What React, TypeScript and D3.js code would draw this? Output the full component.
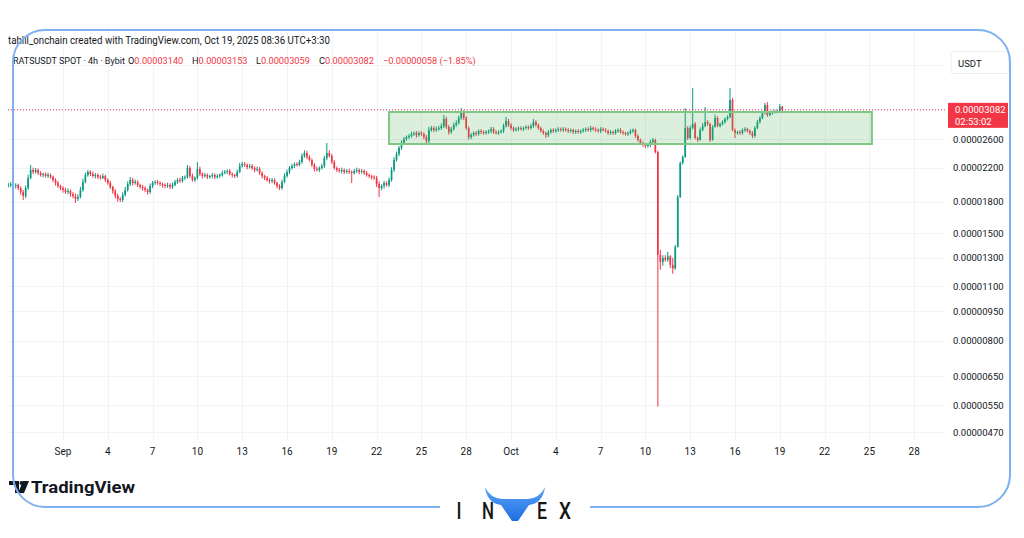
import React from 'react';
import * as d3 from 'd3';

const W = 1024;
const H = 538;

// prices in units of 1e-8 USDT, 4h candles starting 2025-08-28 08:00 UTC
const candleStartUtc = '2025-08-28T08:00:00Z';
const candleHours = 4;
const firstOpen = 1980;

const closes = [
  1988, 2000, 1976, 1988, 1953, 1908, 1864, 1953, 2071, 2170, 2145, 2170,
  2132, 2107, 2120, 2095, 2107, 2083, 2047, 2011, 1976, 1953, 1931, 1908,
  1919, 1886, 1864, 1832, 1853, 1931, 2023, 2107, 2145, 2120, 2095, 2107,
  2083, 2071, 2095, 2047, 2011, 1965, 1919, 1864, 1832, 1821, 1875, 1931,
  2000, 2047, 2011, 2023, 1988, 1965, 1953, 1931, 1908, 1976, 2011, 2023,
  2011, 2000, 1988, 1976, 1988, 1965, 1988, 2023, 2047, 2035, 2071, 2083,
  2195, 2095, 2047, 2071, 2182, 2120, 2095, 2107, 2083, 2095, 2107, 2083,
  2095, 2107, 2132, 2145, 2157, 2120, 2107, 2095, 2145, 2221, 2247, 2234,
  2208, 2221, 2195, 2170, 2182, 2132, 2095, 2071, 2047, 2035, 2047, 2011,
  1976, 1953, 2023, 2095, 2145, 2195, 2221, 2247, 2234, 2273, 2354, 2396,
  2341, 2300, 2234, 2182, 2170, 2195, 2221, 2327, 2396, 2354, 2273, 2195,
  2170, 2157, 2170, 2145, 2157, 2145, 2132, 2157, 2170, 2145, 2157, 2132,
  2107, 2095, 2083, 2071, 2000, 1953, 1976, 2011, 1988, 2047, 2170, 2300,
  2382, 2467, 2540, 2600, 2630, 2646, 2677, 2693, 2661, 2693, 2677, 2630,
  2570, 2740, 2772, 2740, 2756, 2772, 2805, 2922, 2789, 2708, 2756, 2821,
  2854, 2939, 3026, 2939, 2772, 2630, 2661, 2693, 2677, 2724, 2708, 2693,
  2708, 2724, 2756, 2708, 2693, 2708, 2724, 2805, 2888, 2821, 2772, 2740,
  2756, 2772, 2756, 2772, 2789, 2772, 2805, 2871, 2821, 2772, 2724, 2693,
  2661, 2708, 2740, 2724, 2740, 2756, 2740, 2756, 2740, 2724, 2740, 2708,
  2724, 2708, 2724, 2740, 2756, 2740, 2772, 2756, 2740, 2724, 2756, 2740,
  2724, 2693, 2708, 2693, 2724, 2740, 2708, 2693, 2677, 2693, 2724, 2740,
  2646, 2585, 2540, 2511, 2496, 2511, 2555, 2585, 2410, 1322, 1268, 1299,
  1284, 1310, 1247, 1222, 1385, 1853, 2260, 2341, 2772, 2615, 2772, 2838,
  2615, 2585, 2740, 2805, 2871, 2838, 2585, 2789, 2939, 2805, 2838, 2871,
  2922, 2956, 3264, 2740, 2693, 2708, 2693, 2740, 2756, 2724, 2693, 2646,
  2772, 2871, 2939, 3026, 3170, 2991, 3026, 3044, 3050, 3061, 3140, 3082,
];

const upWick = [
  25, 20, 30, 20, 15, 20, 25, 30, 40, 64, 30, 25,
  20, 25, 15, 20, 30, 20, 15, 20, 25, 15, 20, 25,
  30, 15, 20, 25, 30, 35, 40, 30, 25, 20, 30, 25,
  20, 25, 30, 15, 20, 25, 15, 20, 25, 20, 30, 35,
  30, 36, 25, 30, 20, 15, 25, 20, 15, 30, 25, 20,
  25, 20, 15, 20, 25, 20, 30, 25, 20, 30, 25, 20,
  39, 25, 30, 20, 91, 30, 20, 25, 20, 15, 25, 20,
  25, 20, 30, 25, 20, 25, 20, 15, 30, 40, 30, 25,
  20, 30, 25, 20, 30, 25, 20, 15, 25, 20, 25, 20,
  15, 20, 30, 35, 30, 25, 30, 20, 25, 30, 35, 40,
  30, 25, 20, 25, 30, 20, 25, 30, 144, 40, 30, 25,
  20, 25, 30, 20, 25, 30, 20, 25, 30, 20, 25, 20,
  25, 20, 15, 20, 25, 30, 20, 25, 20, 30, 35, 40,
  35, 30, 40, 30, 25, 30, 35, 25, 30, 25, 30, 25,
  30, 50, 35, 30, 40, 35, 45, 69, 40, 30, 35, 40,
  45, 40, 89, 50, 30, 25, 30, 25, 30, 25, 30, 25,
  30, 25, 35, 30, 25, 30, 25, 40, 68, 35, 30, 25,
  30, 25, 30, 25, 30, 25, 35, 51, 30, 25, 20, 25,
  20, 30, 25, 30, 25, 30, 25, 30, 25, 30, 25, 20,
  25, 30, 25, 30, 25, 30, 35, 25, 30, 25, 30, 25,
  30, 25, 30, 25, 30, 25, 30, 25, 20, 25, 30, 25,
  20, 25, 20, 25, 20, 25, 30, 30, 20, 20, 40, 20,
  20, 35, 10, 53, 15, 20, 20, 20, 343, 30, 40, 663,
  30, 20, 40, 50, 263, 30, 20, 30, 60, 30, 25, 30,
  25, 30, 237, 38, 25, 20, 30, 25, 30, 20, 25, 30,
  30, 35, 30, 40, 37, 56, 30, 25, 30, 25, 49, 13,
];

const downWick = [
  20, 25, 20, 30, 25, 30, 43, 25, 20, 15, 25, 20,
  25, 20, 30, 20, 25, 20, 25, 30, 20, 25, 30, 20,
  25, 30, 25, 42, 20, 15, 20, 15, 20, 25, 20, 30,
  25, 20, 15, 25, 20, 25, 30, 25, 30, 21, 20, 15,
  20, 25, 30, 20, 25, 20, 30, 25, 30, 20, 25, 20,
  20, 25, 30, 25, 20, 25, 20, 15, 20, 25, 20, 25,
  20, 25, 20, 25, 20, 25, 30, 20, 25, 20, 30, 25,
  20, 25, 20, 15, 25, 20, 30, 25, 20, 15, 20, 25,
  30, 20, 25, 30, 20, 25, 30, 25, 20, 30, 25, 20,
  25, 22, 20, 15, 20, 25, 20, 25, 20, 15, 20, 25,
  30, 20, 25, 30, 20, 25, 20, 25, 30, 20, 25, 20,
  25, 20, 30, 25, 20, 25, 121, 20, 25, 30, 20, 25,
  20, 25, 30, 20, 35, 100, 25, 30, 20, 25, 20, 25,
  20, 30, 25, 30, 25, 30, 25, 30, 40, 25, 30, 35,
  40, 30, 25, 35, 30, 25, 30, 35, 30, 40, 30, 25,
  30, 25, 30, 35, 30, 40, 30, 25, 30, 25, 35, 30,
  25, 30, 35, 30, 25, 30, 25, 30, 25, 30, 35, 30,
  25, 30, 25, 30, 25, 30, 25, 30, 25, 30, 25, 30,
  46, 30, 25, 30, 25, 30, 25, 30, 25, 30, 25, 30,
  30, 25, 30, 25, 30, 25, 30, 25, 30, 25, 30, 25,
  25, 30, 25, 30, 25, 30, 25, 30, 25, 30, 25, 30,
  30, 25, 30, 25, 30, 25, 30, 25, 20, 777, 56, 28,
  14, 14, 22, 38, 10, 5, 10, 20, 10, 30, 20, 20,
  20, 30, 10, 20, 20, 30, 30, 10, 10, 20, 25, 25,
  25, 25, 20, 20, 78, 25, 30, 25, 30, 25, 30, 35,
  25, 20, 25, 20, 25, 30, 25, 30, 25, 30, 20, 23,
];

const priceTicks = [2600, 2200, 1800, 1500, 1300, 1100, 950, 800, 650, 550, 470];
const hiddenGridTicks = [4000, 3100];

const xTickDates = [
  '2025-09-01', '2025-09-04', '2025-09-07', '2025-09-10', '2025-09-13', '2025-09-16', '2025-09-19',
  '2025-09-22', '2025-09-25', '2025-09-28', '2025-10-01', '2025-10-04', '2025-10-07', '2025-10-10',
  '2025-10-13', '2025-10-16', '2025-10-19', '2025-10-22', '2025-10-25', '2025-10-28',
];
const xTickLabels = ['Sep', '4', '7', '10', '13', '16', '19', '22', '25', '28', 'Oct', '4', '7', '10', '13', '16', '19', '22', '25', '28'];

const lastPrice = 3082;
const countdown = '02:53:02';
const zoneTop = 3044;
const zoneBottom = 2525;
const zoneStart = '2025-09-22T20:00:00Z';
const zoneEnd = '2025-10-25T04:00:00Z';

const headerLine1 = 'tahlil_onchain created with TradingView.com, Oct 19, 2025 08:36 UTC+3:30';
const symbolText = 'RATSUSDT SPOT · 4h · Bybit';
const ohlcLabels = ['O', 'H', 'L', 'C'];
const ohlcValues = ['0.00003140', '0.00003153', '0.00003059', '0.00003082'];
const changeText = '−0.00000058 (−1.85%)';

const UP = '#089981';
const DOWN = '#f23645';
const TXT = '#131722';
const GRID = '#f0f3fa';

const fmt = (v: number) => (v * 1e-8).toFixed(8);

export default function App() {
  const x = d3
    .scaleUtc()
    .domain([new Date('2025-09-01T00:00:00Z'), new Date('2025-10-01T00:00:00Z')])
    .range([63, 511]);
  const y = d3.scaleLog().domain([2600, 470]).range([139, 432]);

  const plot = { left: 8, right: 945, top: 28, bottom: 440 };
  const t0 = new Date(candleStartUtc).getTime();
  const step = candleHours * 3600 * 1000;

  const candles = closes.map((c, i) => {
    const o = i === 0 ? firstOpen : closes[i - 1];
    const hi = Math.max(o, c) + upWick[i];
    const lo = Math.min(o, c) - downWick[i];
    return { t: new Date(t0 + i * step), o, c, hi, lo };
  });

  const bodyW = 1.7;
  const yLast = y(lastPrice);

  const ohlcX = [128, 192, 256, 319];

  return (
    <svg
      width={W}
      height={H}
      viewBox={`0 0 ${W} ${H}`}
      style={{ position: 'absolute', left: 0, top: 0, display: 'block', background: '#fff' }}
      fontFamily="Roboto, 'Noto Sans', 'DejaVu Sans', sans-serif"
    >
      <defs>
        <clipPath id="plotClip">
          <rect x={plot.left} y={plot.top} width={plot.right - plot.left} height={plot.bottom - plot.top} />
        </clipPath>
        <linearGradient id="invexBlue" x1="0" y1="0" x2="0" y2="1">
          <stop offset="0" stopColor="#5aa2f7" />
          <stop offset="1" stopColor="#1f6fe0" />
        </linearGradient>
      </defs>
      <rect x={0} y={0} width={W} height={H} fill="#fff" />

      {/* grid */}
      <g stroke={GRID} strokeWidth={1}>
        {xTickDates.map((d) => {
          const xx = Math.round(x(new Date(d + 'T00:00:00Z'))) + 0.5;
          return <line key={d} x1={xx} x2={xx} y1={plot.top} y2={plot.bottom} />;
        })}
        {[...priceTicks, ...hiddenGridTicks].map((p) => {
          const yy = Math.round(y(p)) + 0.5;
          return <line key={p} x1={plot.left} x2={plot.right} y1={yy} y2={yy} />;
        })}
      </g>

      {/* header */}
      <text x={8} y={43.5} fontSize={10} fill={TXT} textLength={322} lengthAdjust="spacingAndGlyphs">
        {headerLine1}
      </text>
      <text x={13} y={63.5} fontSize={9} fill={TXT}>
        {symbolText}
      </text>
      <text y={63.5} fontSize={9.2} fill={TXT}>
        {ohlcLabels.map((l, i) => (
          <React.Fragment key={l}>
            <tspan x={ohlcX[i]} fill={TXT}>{l}</tspan>
            <tspan fill={DOWN}>{ohlcValues[i]}</tspan>
          </React.Fragment>
        ))}
        <tspan x={383} fill={DOWN}>{changeText}</tspan>
      </text>

      {/* candles */}
      <g clipPath="url(#plotClip)">
        {candles.map((d, i) => {
          const cx = x(d.t);
          const col = d.c >= d.o ? UP : DOWN;
          const yTop = y(Math.max(d.o, d.c));
          const yBot = y(Math.min(d.o, d.c));
          return (
            <g key={i} fill={col}>
              <rect x={cx - 0.5} y={y(d.hi)} width={1} height={Math.max(0.5, y(d.lo) - y(d.hi))} />
              <rect x={cx - bodyW / 2} y={yTop} width={bodyW} height={Math.max(1, yBot - yTop)} />
            </g>
          );
        })}
        {/* zone */}
        <rect
          x={x(new Date(zoneStart))}
          y={y(zoneTop)}
          width={x(new Date(zoneEnd)) - x(new Date(zoneStart))}
          height={y(zoneBottom) - y(zoneTop)}
          fill="rgba(76,175,80,0.2)"
          stroke="#81c784"
          strokeWidth={2}
        />
        {/* last price line */}
        <line x1={plot.left} x2={plot.right} y1={yLast} y2={yLast} stroke={DOWN} strokeWidth={1} strokeDasharray="1 2" />
      </g>

      {/* price axis */}
      <g fontSize={9.5} fill={TXT}>
        {priceTicks.map((p) => (
          <text key={p} x={953} y={y(p)} dominantBaseline="central">
            {fmt(p)}
          </text>
        ))}
      </g>
      <rect x={951} y={51.5} width={58} height={22} fill="#fff" stroke="#eceef2" rx={2} />
      <text x={958} y={63} fontSize={9.5} fill={TXT} dominantBaseline="central">
        USDT
      </text>
      <rect x={948} y={yLast - 7} width={60} height={25} fill={DOWN} />
      <text x={955} y={yLast} fontSize={9.5} fill="#fff" dominantBaseline="central">
        {fmt(lastPrice)}
      </text>
      <text x={955} y={yLast + 12} fontSize={9.5} fill="#fff" dominantBaseline="central">
        {countdown}
      </text>

      {/* time axis */}
      <g fontSize={10} fill={TXT} textAnchor="middle">
        {xTickDates.map((d, i) => (
          <text key={d} x={x(new Date(d + 'T00:00:00Z'))} y={451} dominantBaseline="central">
            {xTickLabels[i]}
          </text>
        ))}
      </g>

      {/* TradingView logo */}
      <g fill="#131722">
        <path d="M9 481 H19 V493 H15 V485 H9 Z" />
        <circle cx={21.5} cy={483} r={2} />
        <path d="M23 481 H29 L24 493 H18 Z" />
      </g>
      <text x={31} y={493} fontSize={16} fontWeight={700} fill="#131722" textLength={104} lengthAdjust="spacingAndGlyphs">
        TradingView
      </text>

      {/* frame */}
      <path
        d="M45 30 H978 A32 32 0 0 1 1010 62 V475 A32 32 0 0 1 978 507 H590 M440 507 H45 A32 32 0 0 1 13 475 V62 A32 32 0 0 1 45 30"
        fill="none"
        stroke="#7fb0f2"
        strokeWidth={2}
      />

      {/* INVEX */}
      <g fontSize={24} fontWeight={500} fill="#151515" textAnchor="middle">
        <text x={459} y={519} textLength={5} lengthAdjust="spacingAndGlyphs">I</text>
        <text x={488} y={519} textLength={12} lengthAdjust="spacingAndGlyphs">N</text>
        <text x={542} y={519} textLength={10} lengthAdjust="spacingAndGlyphs">E</text>
        <text x={565} y={519} textLength={12} lengthAdjust="spacingAndGlyphs">X</text>
      </g>
      <path
        d="M485 487 Q490 498 502 499 L528 499 Q540 498 545 487 Q543 503 529 505 L518 521 L512 521 L501 505 Q487 503 485 487 Z"
        fill="url(#invexBlue)"
      />
    </svg>
  );
}
